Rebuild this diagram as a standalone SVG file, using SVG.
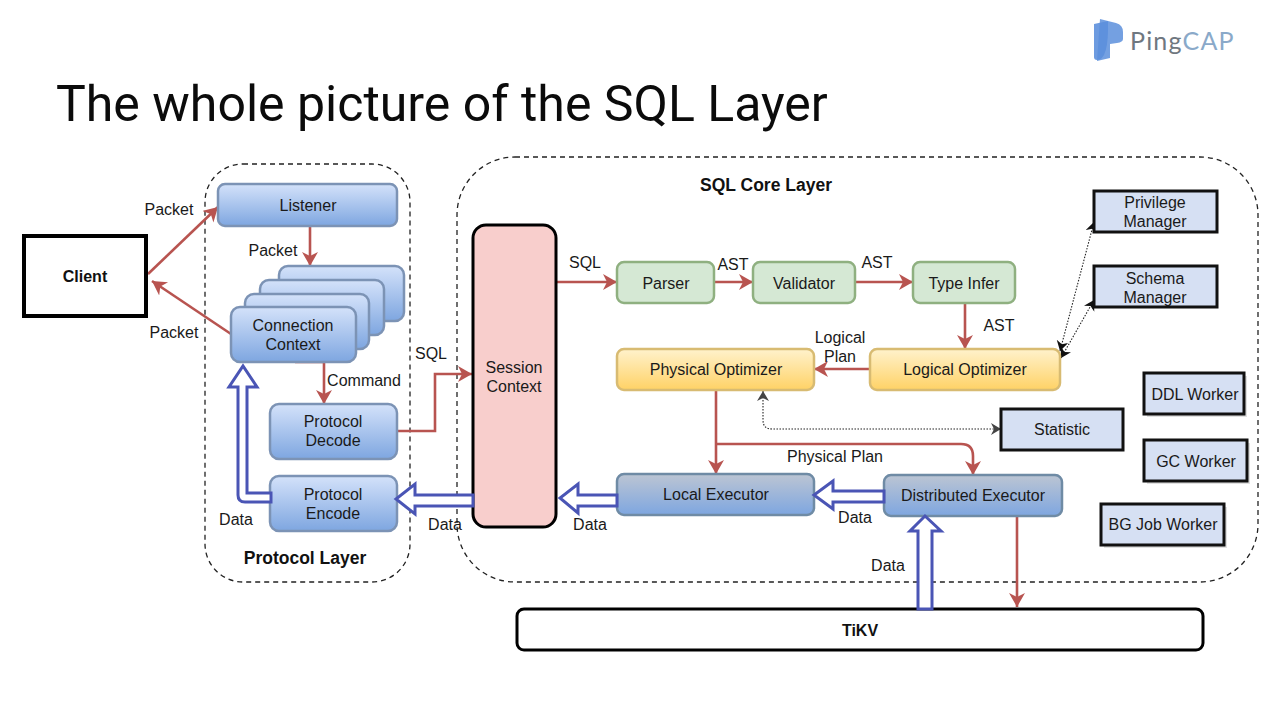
<svg xmlns="http://www.w3.org/2000/svg" width="1280" height="719" viewBox="0 0 1280 719">
<style>
text{font-family:"Liberation Sans",Arial,sans-serif;font-size:16px;fill:#1a1a1a;text-anchor:middle}
.b{font-weight:bold;fill:#111}
.dash{fill:none;stroke:#222;stroke-width:1.3;stroke-dasharray:5 4}
.blue{fill:url(#gb);stroke:#7c93b5;stroke-width:2.5}
.grey{fill:url(#gg);stroke:#6f8ba5;stroke-width:2.5}
.green{fill:#d5e8d4;stroke:#8fb080;stroke-width:2.5}
.yellow{fill:url(#gy);stroke:#d8bb72;stroke-width:2.5}
.sq{fill:#d6e0f3;stroke:#111;stroke-width:3}
.shadow{fill:#ccc;opacity:.6}
.red{fill:none;stroke:#b85450;stroke-width:2.6;marker-end:url(#ar)}
.redn{fill:none;stroke:#b85450;stroke-width:2.6}
.hollow{fill:#fff;stroke:#4a55b5;stroke-width:3}
.dot{fill:none;stroke:#222;stroke-width:1.1;stroke-dasharray:1.5 1.5}
</style>
<defs>
<linearGradient id="gb" x1="0" y1="0" x2="0" y2="1"><stop offset="0" stop-color="#d4e2fa"/><stop offset="1" stop-color="#7ea6e0"/></linearGradient>
<linearGradient id="gg" x1="0" y1="0" x2="0" y2="1"><stop offset="0" stop-color="#bcc5d3"/><stop offset="1" stop-color="#7ea6e0"/></linearGradient>
<linearGradient id="gy" x1="0" y1="0" x2="0" y2="1"><stop offset="0" stop-color="#fff2cc"/><stop offset="1" stop-color="#ffd266"/></linearGradient>
<marker id="ar" markerUnits="userSpaceOnUse" markerWidth="18" markerHeight="18" refX="14" refY="8" orient="auto"><path d="M0 0L14 8L0 16L4 8Z" fill="#b85450"/></marker>
<marker id="ak" markerUnits="userSpaceOnUse" markerWidth="14" markerHeight="14" refX="10" refY="6" orient="auto-start-reverse"><path d="M0 0L10 6L0 12L3 6Z" fill="#111"/></marker>
<marker id="ag" markerUnits="userSpaceOnUse" markerWidth="14" markerHeight="14" refX="10" refY="6" orient="auto-start-reverse"><path d="M0 0L10 6L0 12L3 6Z" fill="#444"/></marker>
</defs>
<rect width="1280" height="719" fill="#fff"/>

<g id="logo">
<path d="M1094 24L1108 21Q1109 60 1097 60Q1094 60 1094 57Z" fill="#6d9be0"/>
<path d="M1100 19L1116 23Q1123 25 1123 32V39Q1123 42 1117 43L1110 44V58L1097 61Z" fill="#5c8fdc" opacity=".85"/>
<text x="1130" y="50" style="font-family:Lato,sans-serif;font-size:25px;letter-spacing:1.2px;text-anchor:start;fill:#6f7780">Ping<tspan fill="#8aa9c9">CAP</tspan></text>
</g>
<text id="title" x="56" y="121" style="font-family:Roboto,sans-serif;font-size:50px;text-anchor:start;fill:#0b0b0b">The whole picture of the SQL Layer</text>

<g id="protocol-layer"><rect class="dash" x="205" y="164" width="205" height="418" rx="38"/><text class="b" x="305" y="564" style="font-size:17.5px">Protocol Layer</text></g>
<g id="sql-core-layer"><rect class="dash" x="457" y="157" width="801" height="425" rx="58"/><text class="b" x="766" y="191" style="font-size:17.5px">SQL Core Layer</text></g>

<g id="connectors">
<path class="red" d="M148 274L218 207"/>
<path class="red" d="M231 334L152 281"/>
<path class="red" d="M310 226V266"/>
<path class="red" d="M295 362H324V404"/>
<path class="red" d="M397 431H435V374H472"/>
<path class="red" d="M556 282H617"/>
<path class="red" d="M714 282H753"/>
<path class="red" d="M855 282H913"/>
<path class="red" d="M965 303V349"/>
<path class="red" d="M870 369H814"/>
<path class="red" d="M716 390V474"/>
<path class="red" d="M716 444H961Q973 444 973 456V475"/>
<path class="red" d="M1017 516V607"/>
<path class="dot" d="M1060 351L1094 222" marker-start="url(#ak)" marker-end="url(#ak)"/>
<path class="dot" d="M1061 358L1094 300" marker-start="url(#ak)" marker-end="url(#ak)"/>
<path class="dot" d="M763 391V420Q763 429 772 429H1001" marker-start="url(#ag)" marker-end="url(#ag)"/>
</g>

<g id="client"><rect x="24" y="236" width="122" height="80" fill="#fff" stroke="#000" stroke-width="4"/><text class="b" x="85" y="282">Client</text></g>
<g id="listener"><rect class="blue" x="218" y="184" width="179" height="42" rx="7"/><text x="308" y="211">Listener</text></g>
<g id="connection-context">
<rect class="blue" x="279" y="266" width="125" height="55" rx="9"/>
<rect class="blue" x="260" y="280" width="124" height="55" rx="9"/>
<rect class="blue" x="245" y="294" width="124" height="55" rx="9"/>
<rect class="blue" x="231" y="307" width="125" height="55" rx="9"/>
<text x="293" y="331">Connection</text><text x="293" y="350">Context</text>
</g>
<g id="protocol-decode"><rect class="blue" x="270" y="404" width="127" height="55" rx="9"/><text x="333" y="427">Protocol</text><text x="333" y="446">Decode</text></g>
<g id="protocol-encode"><rect class="blue" x="270" y="476" width="127" height="55" rx="9"/><text x="333" y="500">Protocol</text><text x="333" y="519">Encode</text></g>
<g id="session-context"><rect x="473" y="225" width="83" height="302" rx="13" fill="#f8cecc" stroke="#000" stroke-width="3"/><text x="514" y="373">Session</text><text x="514" y="392">Context</text></g>
<g id="parser"><rect class="green" x="617" y="262" width="97" height="41" rx="7"/><text x="666" y="289">Parser</text></g>
<g id="validator"><rect class="green" x="753" y="262" width="102" height="41" rx="7"/><text x="804" y="289">Validator</text></g>
<g id="type-infer"><rect class="green" x="913" y="262" width="102" height="41" rx="7"/><text x="964" y="289">Type Infer</text></g>
<g id="logical-optimizer"><rect class="yellow" x="870" y="349" width="190" height="41" rx="7"/><text x="965" y="375">Logical Optimizer</text></g>
<g id="physical-optimizer"><rect class="yellow" x="617" y="349" width="197" height="41" rx="7"/><text x="716" y="375">Physical Optimizer</text></g>
<g id="local-executor"><rect class="grey" x="617" y="474" width="197" height="41" rx="7"/><text x="716" y="500">Local Executor</text></g>
<g id="distributed-executor"><rect class="grey" x="884" y="475" width="178" height="41" rx="7"/><text x="973" y="501">Distributed Executor</text></g>
<g id="privilege-manager"><rect class="sq" x="1094" y="191" width="123" height="41"/><text x="1155" y="208">Privilege</text><text x="1155" y="227">Manager</text></g>
<g id="schema-manager"><rect class="sq" x="1094" y="266" width="123" height="41"/><text x="1155" y="284">Schema</text><text x="1155" y="303">Manager</text></g>
<g id="statistic"><rect class="sq" x="1001" y="409" width="122" height="41"/><text x="1062" y="435">Statistic</text></g>
<g id="ddl-worker"><rect class="shadow" x="1147" y="376" width="100" height="41"/><rect class="sq" x="1144" y="373" width="100" height="41"/><text x="1195" y="400">DDL Worker</text></g>
<g id="gc-worker"><rect class="shadow" x="1147" y="443" width="103" height="41"/><rect class="sq" x="1144" y="440" width="103" height="41"/><text x="1196" y="467">GC Worker</text></g>
<g id="bg-job-worker"><rect class="shadow" x="1104" y="507" width="123" height="41"/><rect class="sq" x="1101" y="504" width="123" height="41"/><text x="1163" y="530">BG Job Worker</text></g>
<g id="tikv"><rect x="517" y="609" width="686" height="41" rx="7" fill="#fff" stroke="#000" stroke-width="3"/><text class="b" x="860" y="636">TiKV</text></g>

<g id="data-connectors">
<path class="hollow" d="M271 502H245Q238 502 238 495V387H229L243 366L257 387H247V493H271Z"/>
<path class="hollow" d="M473 495V506H415V514L396 499L415 484V495Z" transform="translate(0 0)"/>
<path class="hollow" d="M617 495V506H578V513L560 498L578 484V495Z"/>
<path class="hollow" d="M884 491V502H833V509L814 495L833 481V491Z"/>
<path class="hollow" d="M918 609V531H910L925 516L941 531H932V609Z"/>
</g>

<g id="labels">
<text x="169" y="215">Packet</text>
<text x="273" y="256">Packet</text>
<text x="174" y="338">Packet</text>
<text x="364" y="386">Command</text>
<text x="431" y="359">SQL</text>
<text x="585" y="268">SQL</text>
<text x="733" y="270">AST</text>
<text x="877" y="268">AST</text>
<text x="999" y="331">AST</text>
<text x="840" y="343">Logical</text>
<text x="840" y="362">Plan</text>
<text x="835" y="462">Physical Plan</text>
<text x="236" y="525">Data</text>
<text x="445" y="530">Data</text>
<text x="590" y="530">Data</text>
<text x="855" y="523">Data</text>
<text x="888" y="571">Data</text>
</g>
</svg>
